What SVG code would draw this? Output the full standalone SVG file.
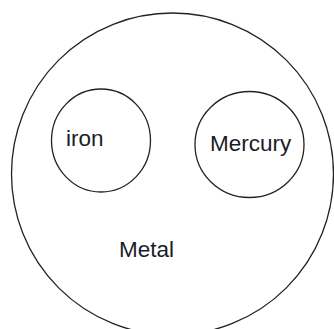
<svg xmlns="http://www.w3.org/2000/svg" width="334" height="329" viewBox="0 0 334 329">
<style>
.c{fill:none;stroke:#222;stroke-width:1.3}
.t{font-family:"Liberation Sans",Arial,sans-serif;font-size:22.5px;fill:#1c1c28}
</style>
<rect width="334" height="329" fill="#fff"/>
<g id="metal">
<ellipse class="c" cx="172.5" cy="174" rx="161" ry="161"/>
<text class="t" x="119" y="256.5">Metal</text>
</g>
<g id="iron">
<ellipse class="c" cx="101" cy="140.5" rx="49.5" ry="51.5"/>
<text class="t" x="66" y="145.5">iron</text>
</g>
<g id="mercury">
<ellipse class="c" cx="249.5" cy="144.5" rx="54.5" ry="53"/>
<text class="t" x="210" y="151">Mercury</text>
</g>
<g id="connectors"/>
</svg>
